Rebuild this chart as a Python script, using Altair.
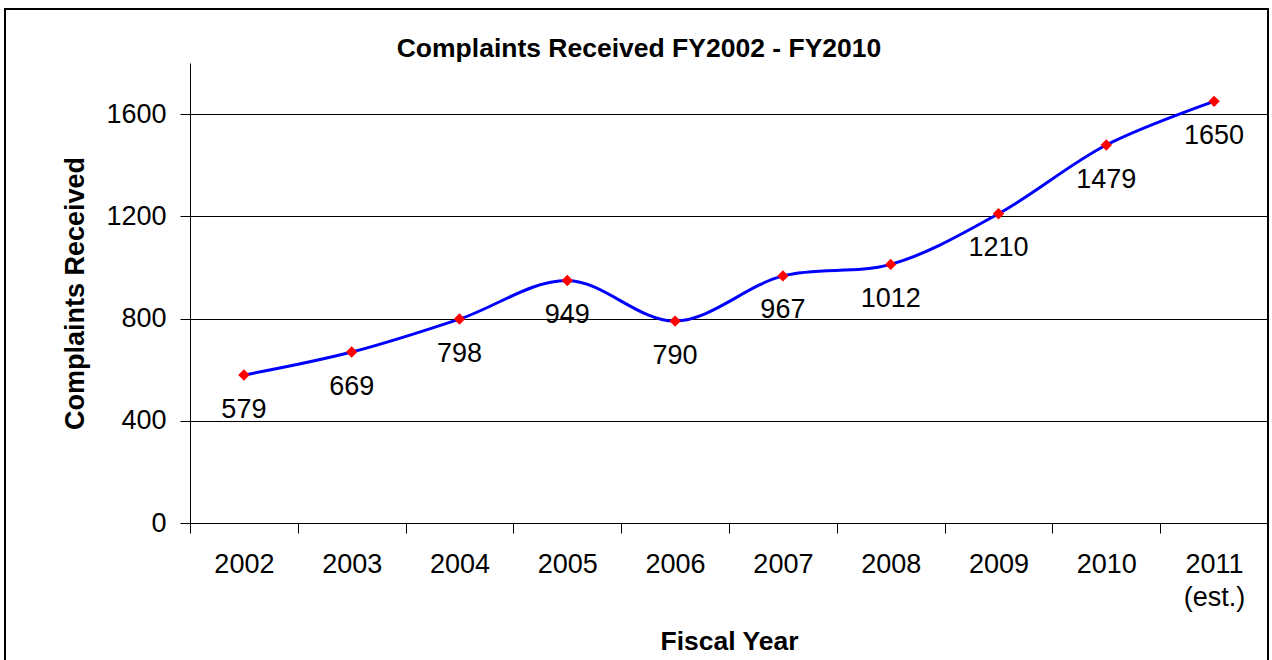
import altair as alt
import pandas as pd

years = ["2002", "2003", "2004", "2005", "2006", "2007", "2008", "2009", "2010", "2011"]
complaints = [579, 669, 798, 949, 790, 967, 1012, 1210, 1479, 1650]
y_ticks = [0, 400, 800, 1200, 1600]
title_text = "Complaints Received FY2002 - FY2010"

df = pd.DataFrame({"year": years, "complaints": complaints})

FONT = "Liberation Sans"
W, H = 1078, 460
FS = 27

x_enc = alt.X(
    "year:N",
    sort=years,
    scale=alt.Scale(type="band", paddingInner=0, paddingOuter=0),
    axis=alt.Axis(
        title="Fiscal Year",
        tickBand="extent",
        labelAngle=0,
        labelFontSize=FS,
        labelFont=FONT,
        labelColor="black",
        labelPadding=18,
        labelLineHeight=33,
        labelExpr="datum.value == '2011' ? ['2011', '(est.)'] : datum.label",
        tickSize=10,
        tickColor="black",
        domainColor="black",
        grid=False,
        titleFont=FONT,
        titleFontSize=26.5,
        titleFontWeight="bold",
        titleColor="black",
        titleY=126,
        titleBaseline="alphabetic",
    ),
)

y_enc = alt.Y(
    "complaints:Q",
    scale=alt.Scale(domain=[0, 1800], nice=False),
    axis=alt.Axis(
        title="Complaints Received",
        values=y_ticks,
        format="d",
        grid=True,
        gridColor="black",
        gridOpacity=1,
        gridWidth=1,
        labelFontSize=FS,
        labelFont=FONT,
        labelColor="black",
        labelPadding=14,
        tickSize=10,
        tickColor="black",
        domainColor="black",
        titleFont=FONT,
        titleFontSize=27,
        titleFontWeight="bold",
        titleColor="black",
        titleAngle=-90,
        titleX=-107,
        titleY=H / 2,
        titleAlign="center",
        titleBaseline="alphabetic",
    ),
)

base = alt.Chart(df)

line = base.mark_line(color="#0000FF", strokeWidth=3, interpolate="catmull-rom").encode(x=x_enc, y=y_enc)
points = base.mark_point(shape="diamond", filled=True, color="#FF0000", size=130, opacity=1).encode(x=x_enc, y=y_enc)
labels = base.mark_text(fontSize=FS, font=FONT, color="black", dy=42.5, baseline="alphabetic", align="center").encode(
    x=x_enc, y=y_enc, text="complaints:Q"
)

frame = alt.Chart(pd.DataFrame({"a": [0]})).mark_rect(filled=False, stroke="black", strokeWidth=2).encode(
    x=alt.value(-185), x2=alt.value(W), y=alt.value(-54), y2=alt.value(H + 200)
)

title = alt.Chart(pd.DataFrame({"t": [title_text]})).mark_text(
    font=FONT, fontSize=26.5, fontWeight="bold", color="black", align="center", baseline="alphabetic"
).encode(x=alt.value(449), y=alt.value(-6), text="t:N")

chart = alt.layer(frame, line, points, labels, title).properties(
    width=W,
    height=H,
    background="white",
    autosize=alt.AutoSizeParams(type="none"),
    padding={"left": 190, "top": 63, "right": 4, "bottom": 137},
).configure_view(strokeOpacity=0, strokeWidth=0)

chart.save("out.html", embed_options={"renderer": "svg", "actions": False})
